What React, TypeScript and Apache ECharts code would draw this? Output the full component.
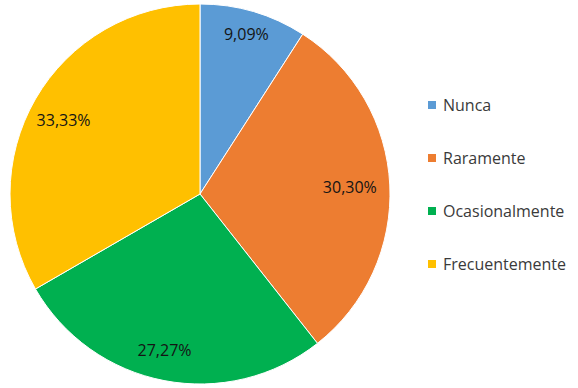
import React, { useEffect, useRef } from "react";
import * as echarts from "echarts";

const categories = ["Nunca", "Raramente", "Ocasionalmente", "Frecuentemente"];
const values = [3, 10, 9, 11];
const colors = ["#5B9BD5", "#ED7D31", "#00B050", "#FFC000"];
// small nudges of the percentage labels (style only)
const labelNudges: [number, number][] = [[1, -6], [-11, 1], [-5, -2], [3, 6]];

export default function App() {
  const ref = useRef<HTMLDivElement>(null);
  useEffect(() => {
    if (!ref.current) return;
    const chart = echarts.init(ref.current, undefined, { renderer: "svg" });
    const data = categories.map((name, i) => ({ name, value: values[i], itemStyle: { color: colors[i] } }));
    const ghost = categories.map((name, i) => ({
      name,
      value: values[i],
      itemStyle: { color: "rgba(0,0,0,0)" },
      label: { offset: labelNudges[i] },
    }));
    const total = values.reduce((a, b) => a + b, 0);
    const fmt = (p: any) => ((p.value / total) * 100).toFixed(2).replace(".", ",") + "%";
    chart.setOption({
      animation: false,
      textStyle: { fontFamily: "Open Sans" },
      legend: {
        orient: "vertical",
        left: 421,
        top: 92,
        itemWidth: 10,
        itemHeight: 10,
        itemGap: 37,
        icon: "rect",
        data: categories,
        textStyle: { fontSize: 16, color: "#3a3a3a", fontFamily: "Open Sans", padding: [0, 0, 0, 1] },
      },
      series: [
        {
          type: "pie",
          center: [200, 194],
          radius: [0, 190],
          startAngle: 90,
          clockwise: true,
          data,
          label: { show: false },
          labelLine: { show: false },
          itemStyle: { borderColor: "#ffffff", borderWidth: 1 },
          silent: true,
        },
        {
          type: "pie",
          center: [200, 194],
          radius: [132, 184],
          startAngle: 90,
          clockwise: true,
          data: ghost,
          label: {
            show: true,
            position: "inside",
            formatter: fmt,
            fontSize: 16,
            color: "#141414",
            fontFamily: "Open Sans",
          },
          labelLine: { show: false },
          silent: true,
        },
      ],
    });
    return () => chart.dispose();
  }, []);
  return <div ref={ref} style={{ width: 578, height: 388, position: "absolute", left: 0, top: 0, background: "#fff" }} />;
}
